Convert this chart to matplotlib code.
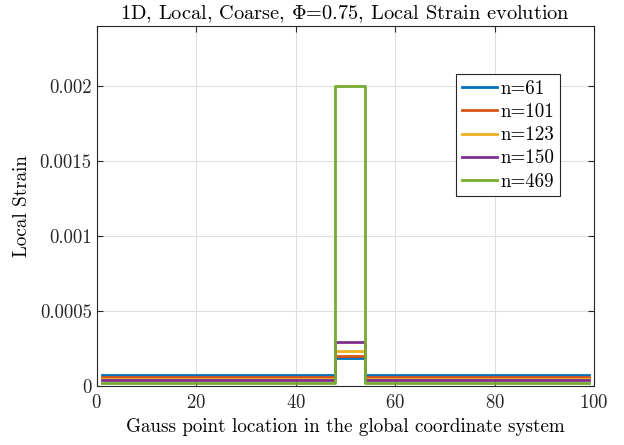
import matplotlib
matplotlib.use("Agg")
import matplotlib.pyplot as plt
import numpy as np

plt.rcParams['font.family'] = 'serif'
plt.rcParams['font.serif'] = ['cmr10']
plt.rcParams['mathtext.fontset'] = 'cm'
plt.rcParams['axes.formatter.use_mathtext'] = True

# Gauss point positions: flat, jump into the localized band, flat again
gauss_x = [1, 48, 48, 54, 54, 99]

labels = ['n=61', 'n=101', 'n=123', 'n=150', 'n=469']
outer_strain = [7.0e-5, 5.6e-5, 4.6e-5, 3.6e-5, 2.0e-5]
band_strain = [1.85e-4, 2.0e-4, 2.35e-4, 2.95e-4, 2.0e-3]
colors = ['#0072BD', '#D95319', '#EDB120', '#7E2F8E', '#77AC30']

fig = plt.figure(figsize=(6.24, 4.45), dpi=100)
ax = fig.add_axes([0.155, 0.133, 0.797, 0.809])

for lab, lo, hi, c in zip(labels, outer_strain, band_strain, colors):
    y = [lo, lo, hi, hi, lo, lo]
    ax.plot(gauss_x, y, color=c, lw=2, label=lab)

ax.set_xlim(0, 100)
ax.set_ylim(0, 0.0024)
ax.set_xticks(np.arange(0, 101, 20))
ax.set_yticks([0, 0.0005, 0.001, 0.0015, 0.002])
ax.set_yticklabels(['0', '0.0005', '0.001', '0.0015', '0.002'])
ax.grid(True, color='#dfdfdf', lw=0.8)
ax.set_axisbelow(True)
ax.tick_params(direction='in', top=True, right=True, labelsize=13.5,
               colors='#262626', length=4)
ax.tick_params(axis='x', pad=6)
for s in ax.spines.values():
    s.set_color('#262626')
    s.set_linewidth(0.8)

ax.set_title(r'1D, Local, Coarse, $\Phi$=0.75, Local Strain evolution', fontsize=14.7, pad=5)
ax.set_xlabel('Gauss point location in the global coordinate system', fontsize=13.7, labelpad=4)
ax.set_ylabel('Local Strain', fontsize=13.7, labelpad=6)

leg = ax.legend(loc='upper right', bbox_to_anchor=(0.932, 0.866), fontsize=13.7,
                fancybox=False, edgecolor='#262626', framealpha=1,
                handlelength=1.85, handletextpad=0.2, borderpad=0.3,
                labelspacing=0.28, borderaxespad=0)
leg.get_frame().set_linewidth(0.8)

fig.savefig('out.png', dpi=100)
